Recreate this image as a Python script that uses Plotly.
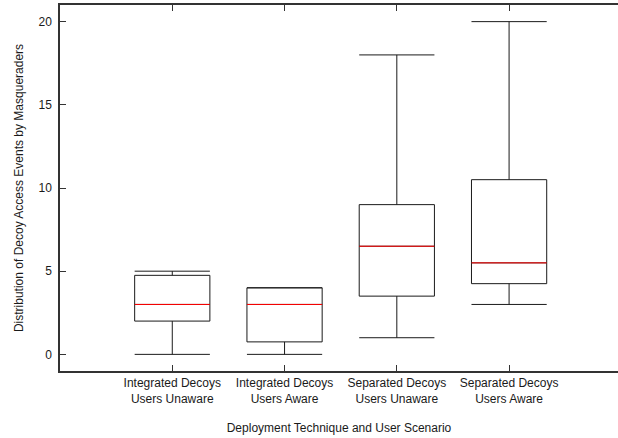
import plotly.graph_objects as go

# Five-number summaries of decoy access events per scenario
scenarios = [
    "Integrated Decoys<br>Users Unaware",
    "Integrated Decoys<br>Users Aware",
    "Separated Decoys<br>Users Unaware",
    "Separated Decoys<br>Users Aware",
]
positions = [1, 2, 3, 4]
lower_whisker = [0, 0, 1, 3]
q1 = [2, 0.75, 3.5, 4.25]
median = [3, 3, 6.5, 5.5]
q3 = [4.75, 4, 9, 10.5]
upper_whisker = [5, 4, 18, 20]

y_ticks = [0, 5, 10, 15, 20]

BOX_WIDTH = 0.67
FONT = "Liberation Sans, Arial, Helvetica, sans-serif"

fig = go.Figure()

fig.add_trace(go.Box(
    x=positions,
    q1=q1,
    median=median,
    q3=q3,
    lowerfence=lower_whisker,
    upperfence=upper_whisker,
    width=BOX_WIDTH,
    whiskerwidth=1,
    boxpoints=False,
    line=dict(color="#1a1a1a", width=1),
    fillcolor="rgba(0,0,0,0)",
    showlegend=False,
    hoverinfo="skip",
))

# Red median lines drawn over each box
mx, my = [], []
for p, m in zip(positions, median):
    mx += [p - BOX_WIDTH / 2, p + BOX_WIDTH / 2, None]
    my += [m, m, None]
fig.add_trace(go.Scatter(
    x=mx, y=my, mode="lines",
    line=dict(color="#ff0000", width=1),
    showlegend=False, hoverinfo="skip",
))

axis_common = dict(
    showline=True, linecolor="#333333", linewidth=1.5,
    ticks="inside", ticklen=6, tickwidth=1,
    tickcolor="#333333", showgrid=False, zeroline=False,
    tickfont=dict(family=FONT, size=12, color="#1a1a1a"),
)

fig.update_layout(
    width=618, height=438,
    margin=dict(l=60, r=0, t=5, b=67),
    paper_bgcolor="white", plot_bgcolor="white",
    font=dict(family=FONT, size=12, color="#1a1a1a"),
    xaxis=dict(
        range=[0, 4.97],
        mirror="ticks",
        tickmode="array", tickvals=positions, ticktext=scenarios,
        title=dict(text="Deployment Technique and User Scenario",
                   font=dict(family=FONT, size=12), standoff=19),
        **axis_common,
    ),
    yaxis=dict(
        range=[-1, 21],
        mirror=False,
        tickmode="array", tickvals=y_ticks,
        ticklabelstandoff=4,
        title=dict(text="Distribution of Decoy Access Events by Masqueraders",
                   font=dict(family=FONT, size=12), standoff=12),
        **axis_common,
    ),
)

fig.write_html("out.html")
